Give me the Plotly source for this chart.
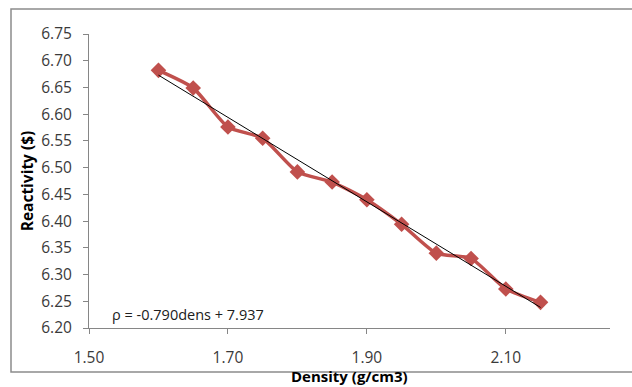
import plotly.graph_objects as go

density = [1.60, 1.65, 1.70, 1.75, 1.80, 1.85, 1.90, 1.95, 2.00, 2.05, 2.10, 2.15]
reactivity = [6.682, 6.649, 6.576, 6.555, 6.492, 6.473, 6.440, 6.394, 6.340, 6.330, 6.273, 6.248]
slope = -0.790
intercept = 7.937
fit_x = [density[0], density[-1]]
fit_y = [slope * x + intercept for x in fit_x]

W, H = 632, 387
L, R, T, B = 89, 22, 34, 59
pw, ph = W - L - R, H - T - B

fig = go.Figure()
fig.add_trace(go.Scatter(
    x=density, y=reactivity, mode="lines+markers",
    line=dict(color="#C0504D", width=3.5, shape="spline", smoothing=0.6),
    marker=dict(symbol="diamond", size=12, color="#C0504D"),
    showlegend=False,
))
fig.add_trace(go.Scatter(
    x=fit_x, y=fit_y, mode="lines",
    line=dict(color="#000000", width=1),
    showlegend=False,
))

font = "'Open Sans', sans-serif"
axis_common = dict(
    showgrid=False, zeroline=False, showline=True, linecolor="#868686", linewidth=1,
    ticks="outside", ticklen=5, tickcolor="#868686", automargin=False,
    tickfont=dict(family=font, size=15.5, color="#3a3a3a"),
)
fig.update_layout(
    width=W, height=H,
    margin=dict(l=L, r=R, t=T, b=B),
    paper_bgcolor="white", plot_bgcolor="white",
    xaxis=dict(range=[1.5, 2.25], tick0=1.5, dtick=0.2, tickformat=".2f",
               ticklabelstandoff=10, **axis_common),
    yaxis=dict(range=[6.20, 6.75], tick0=6.2, dtick=0.05, tickformat=".2f",
               title=dict(text="<b>Reactivity ($)</b>", font=dict(family=font, size=15.5, color="#000"), standoff=3),
               ticklabelstandoff=8, **axis_common),
    annotations=[
        dict(
            x=(110 - L) / pw, y=(328 - 314) / ph, xref="paper", yref="paper",
            xanchor="left", yanchor="middle", showarrow=False,
            text="\u03c1 = -0.790dens + 7.937",
            font=dict(family=font, size=14.5, color="#202020"),
        ),
        dict(
            x=0.5, y=(328 - 376) / ph, xref="paper", yref="paper",
            xanchor="center", yanchor="middle", showarrow=False,
            text="<b>Density (g/cm3)</b>",
            font=dict(family=font, size=15, color="#000"),
        ),
    ],
    shapes=[dict(
        type="rect", xref="paper", yref="paper",
        x0=(11 - L) / pw, x1=(W + 10 - L) / pw,
        y0=(H - T - (H + 10)) / ph, y1=(H - B - 9) / ph,
        line=dict(color="#8c8c8c", width=1.5), layer="below",
    )],
)
fig.write_html("out.html")
